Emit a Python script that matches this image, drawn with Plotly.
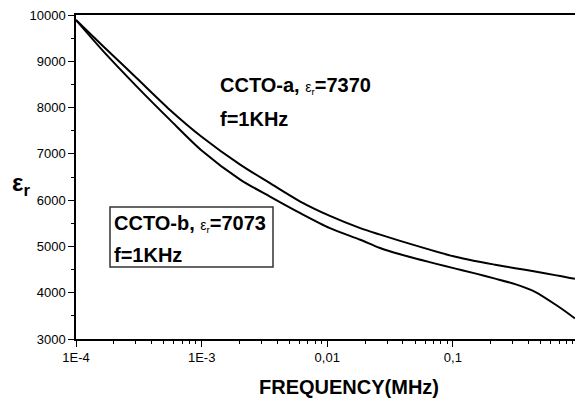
import plotly.graph_objects as go

freq_mhz = [1.0e-4, 1.66e-4, 3.05e-4, 5.6e-4, 1.0e-3, 2.04e-3, 3.5e-3, 6.1e-3,
            1.05e-2, 1.83e-2, 2.6e-2, 3.8e-2, 0.105, 0.150, 0.217, 0.313, 0.451,
            0.650, 0.855, 0.937]
eps_a = [9890, 9316, 8633, 7950, 7370, 6762, 6367, 5970,
         5660, 5396, 5260, 5120, 4775, 4685, 4605, 4530, 4458,
         4380, 4320, 4300]
eps_b = [9890, 9208, 8453, 7734, 7073, 6439, 6078, 5720,
         5396, 5144, 4971, 4830, 4520, 4418, 4305, 4185, 4020,
         3750, 3525, 3445]

x_tickvals = [1e-4, 1e-3, 1e-2, 1e-1]
x_ticktext = ["1E-4", "1E-3", "0,01", "0,1"]
y_tickvals = [3000, 4000, 5000, 6000, 7000, 8000, 9000, 10000]
y_ticktext = ["3000", "4000", "5000", "6000", "7000", "8000", "9000", "10000"]

FONT = "Liberation Sans, Arial, sans-serif"
L, R, T, B = 76, 575, 15, 339  # plot area in pixels
PW, PH = R - L, B - T


def px(xp):
    return (xp - L) / PW


def py(yp):
    return (B - yp) / PH


fig = go.Figure()
for ys, name in [(eps_a, "CCTO-a"), (eps_b, "CCTO-b")]:
    fig.add_trace(go.Scatter(x=freq_mhz, y=ys, mode="lines", name=name,
                             line=dict(color="black", width=2, shape="spline", smoothing=0.8),
                             showlegend=False))

fig.update_layout(
    width=575, height=400,
    margin=dict(l=L, r=575 - R, t=T, b=400 - B),
    paper_bgcolor="white", plot_bgcolor="white",
    font=dict(family=FONT, color="black", size=13),
    xaxis=dict(type="log", range=[-4, -0.028], tickvals=x_tickvals, ticktext=x_ticktext,
               ticks="outside", ticklen=6, tickwidth=1.2, tickcolor="black",
               showline=True, linecolor="black", linewidth=1.5, mirror=True,
               showgrid=False, zeroline=False,
               minor=dict(ticks="outside", ticklen=3, tickwidth=1, tickcolor="black",
                          dtick="D1", showgrid=False),
               tickfont=dict(size=13)),
    yaxis=dict(range=[3000, 10000], tickvals=y_tickvals, ticktext=y_ticktext,
               ticks="outside", ticklen=6, tickwidth=1.2, tickcolor="black",
               showline=True, linecolor="black", linewidth=1.5,
               showgrid=False, zeroline=False,
               minor=dict(ticks="outside", ticklen=3, tickwidth=1, tickcolor="black",
                          dtick=500, showgrid=False),
               tickfont=dict(size=13)),
)

eps_small = "<span style='font-size:14px;font-weight:normal'>ε<sub>r</sub></span>"

anns = [
    dict(x=218, y=86, text="<b>CCTO-a, </b>" + eps_small + "<b>=7370</b>"),
    dict(x=218, y=119, text="<b>f=1KHz</b>"),
    dict(x=112, y=223, text="<b>CCTO-b, </b>" + eps_small + "<b>=7073</b>"),
    dict(x=112, y=255, text="<b>f=1KHz</b>"),
]
for a in anns:
    fig.add_annotation(x=px(a["x"]), y=py(a["y"]), xref="paper", yref="paper",
                       text=a["text"], showarrow=False, xanchor="left", yanchor="middle",
                       font=dict(size=20, family=FONT, color="black"))

# box around CCTO-b label
fig.add_shape(type="rect", xref="paper", yref="paper",
              x0=px(110), x1=px(273), y0=py(267), y1=py(207),
              line=dict(color="#333333", width=1.5))

# axis titles
fig.add_annotation(x=px(349), y=py(387), xref="paper", yref="paper",
                   text="<b>FREQUENCY(MHz)</b>", showarrow=False,
                   xanchor="center", yanchor="middle",
                   font=dict(size=20, family=FONT, color="black"))
fig.add_annotation(x=px(10), y=py(184), xref="paper", yref="paper",
                   text="<b>ε<sub>r</sub></b>", showarrow=False,
                   xanchor="left", yanchor="middle",
                   font=dict(size=24, family=FONT, color="black"))

fig.write_html("out.html")
